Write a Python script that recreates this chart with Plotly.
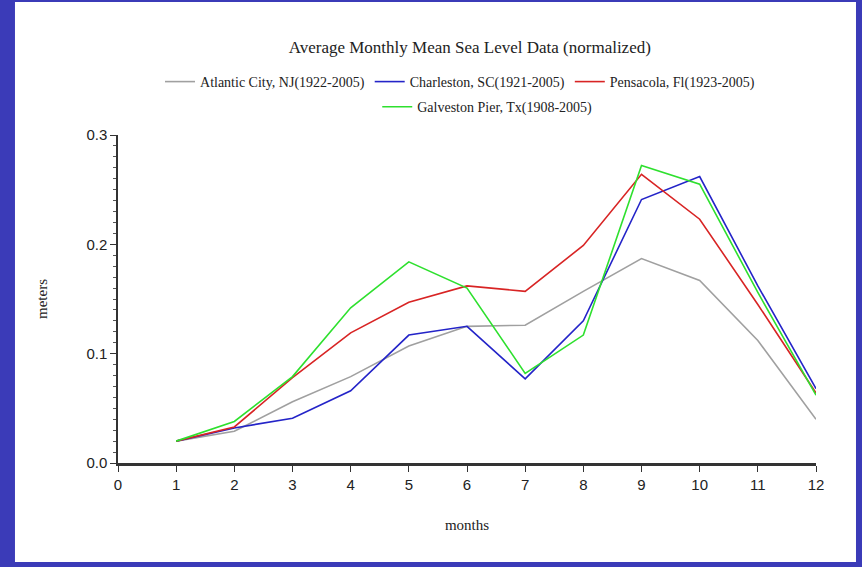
"""
Average monthly mean sea level (normalized) for four Gulf/Atlantic tide gauges.

Writes out.html
"""

import plotly.graph_objects as go

MONTHS = [1, 2, 3, 4, 5, 6, 7, 8, 9, 10, 11, 12]

ATLANTIC_CITY = [0.020, 0.029, 0.056, 0.079, 0.107, 0.125, 0.126, 0.157, 0.187, 0.167, 0.112, 0.040]
CHARLESTON = [0.020, 0.032, 0.041, 0.066, 0.117, 0.125, 0.077, 0.130, 0.241, 0.262, 0.162, 0.068]
PENSACOLA = [0.020, 0.033, 0.078, 0.119, 0.147, 0.162, 0.157, 0.199, 0.264, 0.223, 0.145, 0.064]
GALVESTON = [0.020, 0.038, 0.079, 0.142, 0.184, 0.160, 0.082, 0.117, 0.272, 0.255, 0.156, 0.062]

SERIES = [
    ("Atlantic City, NJ(1922-2005)", ATLANTIC_CITY, "#a0a0a0", "legend"),
    ("Charleston, SC(1921-2005)", CHARLESTON, "#2424c8", "legend"),
    ("Pensacola, Fl(1923-2005)", PENSACOLA, "#d82424", "legend"),
    ("Galveston Pier, Tx(1908-2005)", GALVESTON, "#2ee02e", "legend2"),
]

SERIF = "Liberation Serif, Times New Roman, serif"
SANS = "Liberation Sans, Arial, sans-serif"


def main() -> None:
    fig = go.Figure()

    for name, values, color, legend in SERIES:
        fig.add_trace(
            go.Scatter(
                x=MONTHS,
                y=values,
                mode="lines",
                name=name,
                line=dict(color=color, width=1.6),
                legend=legend,
            )
        )

    # white slide panel on the blue background
    fig.add_shape(
        type="rect",
        xref="paper",
        yref="paper",
        x0=-0.1476,
        x1=1.0573,
        y0=-0.3018,
        y1=1.4055,
        fillcolor="white",
        line=dict(width=0),
        layer="below",
    )

    legend_common = dict(
        orientation="h",
        xanchor="center",
        yanchor="middle",
        bgcolor="rgba(0,0,0,0)",
        font=dict(family=SERIF, size=14, color="#222"),
        itemwidth=30,
        tracegroupgap=0,
    )

    fig.update_layout(
        title=dict(
            text="Average Monthly Mean Sea Level Data (normalized)",
            x=0.545,
            xanchor="center",
            y=1 - 47 / 567,
            yanchor="middle",
            font=dict(family=SERIF, size=17, color="#222"),
        ),
        legend=dict(x=0.49, y=1.1616, **legend_common),
        legend2=dict(x=0.529, y=1.085, **legend_common),
        xaxis=dict(
            range=[0, 12],
            tickvals=list(range(0, 13)),
            ticks="outside",
            ticklen=6,
            tickwidth=1,
            tickcolor="#333",
            showline=True,
            linecolor="#333",
            linewidth=2.5,
            showgrid=False,
            zeroline=False,
            tickfont=dict(family=SANS, size=15, color="#222"),
            title=dict(
                text="months",
                font=dict(family=SERIF, size=15, color="#222"),
                standoff=28,
            ),
        ),
        yaxis=dict(
            range=[0, 0.3],
            tickvals=[0, 0.1, 0.2, 0.3],
            ticktext=["0.0", "0.1", "0.2", "0.3"],
            ticks="outside",
            ticklen=6,
            tickcolor="#333",
            minor=dict(dtick=0.01, ticks="outside", ticklen=3, tickcolor="#555"),
            showline=True,
            linecolor="#333",
            linewidth=1.5,
            showgrid=False,
            zeroline=False,
            tickfont=dict(family=SANS, size=15, color="#222"),
            title=dict(
                text="meters",
                font=dict(family=SERIF, size=15, color="#222"),
                standoff=35,
            ),
        ),
        paper_bgcolor="#3b3bb8",
        plot_bgcolor="white",
        width=862,
        height=567,
        margin=dict(l=118, r=46, t=135, b=104),
        showlegend=True,
    )

    # drop the browser's default page margin so the figure fills the window
    fig.write_html(
        "out.html",
        config={"displayModeBar": False},
        post_script="document.body.style.margin='0';document.body.style.overflow='hidden';",
    )


if __name__ == "__main__":
    main()
